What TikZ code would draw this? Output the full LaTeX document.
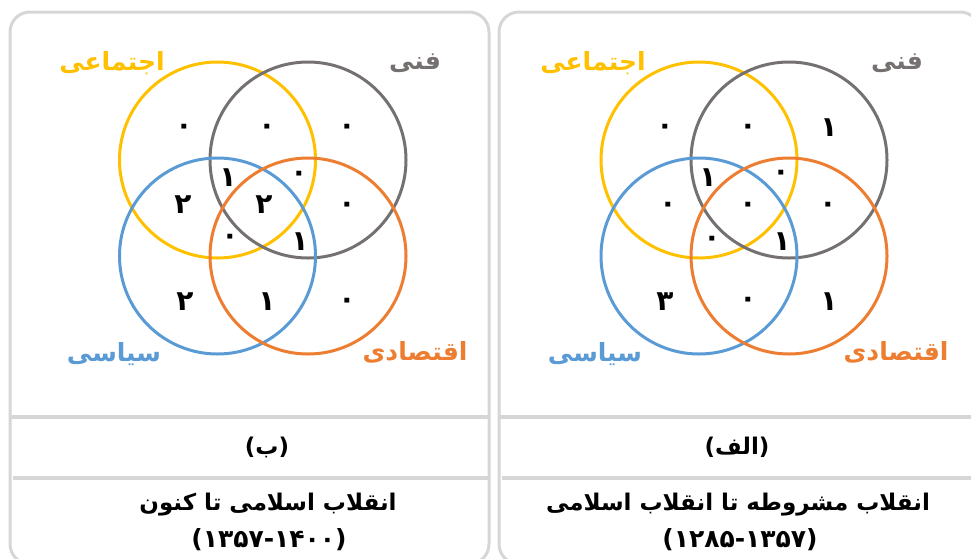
\documentclass[tikz,border=0pt]{standalone}
\usepackage{fontspec}
\newfontfamily\fa[Script=Arabic]{DejaVu Sans}
\TeXXeTstate=1
\definecolor{cyel}{HTML}{FFC000}
\definecolor{cgray}{HTML}{767171}
\definecolor{cblue}{HTML}{5B9BD5}
\definecolor{corange}{HTML}{ED7D31}
\definecolor{cframe}{HTML}{D6D6D6}
\begin{document}
\begin{tikzpicture}[x=1pt,y=-1pt,
  frame/.style={draw=cframe,line width=3pt,rounded corners=20pt},
  sepline/.style={draw=cframe,line width=3.5pt},
  ring/.style={line width=3pt},
  num/.style={font=\fa\bfseries\fontsize{28}{30}\selectfont,inner sep=0pt},
  lab/.style={font=\fa\bfseries\fontsize{25}{28}\selectfont,inner sep=0pt},
  captext/.style={font=\fa\bfseries\fontsize{23}{26}\selectfont,inner sep=0pt},
  yeartext/.style={font=\fa\bfseries\fontsize{25}{27}\selectfont,inner sep=0pt}]
\clip (0,0) rectangle (971,558);
% panels
\draw[frame] (10,12) rectangle (489,564);
\draw[frame] (499,12) rectangle (980,564);
\draw[sepline] (11,417) -- (488,417);
\draw[sepline] (13,478) -- (488,478);
\draw[sepline] (500,417) -- (971,417);
\draw[sepline] (502,478) -- (971,478);
% left venn
\draw[ring,draw=cyel] (217.5,160) circle[radius=98pt];
\draw[ring,draw=cgray] (308,160) circle[radius=98pt];
\draw[ring,draw=cblue] (217.5,256) circle[radius=98pt];
\draw[ring,draw=corange] (308,256) circle[radius=98pt];
% right venn
\draw[ring,draw=cyel] (699,160) circle[radius=98pt];
\draw[ring,draw=cgray] (789,160) circle[radius=98pt];
\draw[ring,draw=cblue] (699,256) circle[radius=98pt];
\draw[ring,draw=corange] (789,256) circle[radius=98pt];
% left labels
\node[lab,text=cyel] (Lsoc) at (112,63) {\beginR اجتماعی\endR};
\node[lab,text=cgray] (Ltec) at (415,63) {\beginR فنی\endR};
\node[lab,text=cblue] (Lpol) at (114,354) {\beginR سیاسی\endR};
\node[lab,text=corange] (Leco) at (415,352) {\beginR اقتصادی\endR};
% right labels
\node[lab,text=cyel] (Rsoc) at (593,63) {\beginR اجتماعی\endR};
\node[lab,text=cgray] (Rtec) at (897,63) {\beginR فنی\endR};
\node[lab,text=cblue] (Rpol) at (595,354) {\beginR سیاسی\endR};
\node[lab,text=corange] (Reco) at (896,352) {\beginR اقتصادی\endR};
% left numbers
\node[num] (L1) at (184,129) {۰};
\node[num] (L2) at (267,129) {۰};
\node[num] (L3) at (347,129) {۰};
\node[num] (L4) at (228,178) {۱};
\node[num] (L5) at (299,176) {۰};
\node[num] (L6) at (183,205) {۲};
\node[num] (L7) at (264,205) {۲};
\node[num] (L8) at (347,207) {۰};
\node[num] (L9) at (230,239) {۰};
\node[num] (L10) at (300,242) {۱};
\node[num] (L11) at (185,302) {۲};
\node[num] (L12) at (267,302) {۱};
\node[num] (L13) at (347,303) {۰};
% right numbers
\node[num] (R1) at (665,129) {۰};
\node[num] (R2) at (748,129) {۰};
\node[num] (R3) at (829,128) {۱};
\node[num] (R4) at (708,178) {۱};
\node[num] (R5) at (781,175) {۰};
\node[num] (R6) at (668,207) {۰};
\node[num] (R7) at (748,207) {۰};
\node[num] (R8) at (828,207) {۰};
\node[num] (R9) at (712,241) {۰};
\node[num] (R10) at (782,242) {۱};
\node[num] (R11) at (665,302) {۳};
\node[num] (R12) at (748,302) {۰};
\node[num] (R13) at (829,302) {۱};
% captions
\node[captext] (Lsub) at (267,447) {\beginR(ب)\endR};
\node[captext] (Ltitle) at (268,505) {\beginR انقلاب اسلامی تا کنون\endR};
\node[yeartext] (Lyears) at (269,540) {(۱۳۵۷-۱۴۰۰)};
\node[captext] (Rsub) at (737,447) {\beginR(الف)\endR};
\node[captext] (Rtitle) at (738,505) {\beginR انقلاب مشروطه تا انقلاب اسلامی\endR};
\node[yeartext] (Ryears) at (740,540) {(۱۲۸۵-۱۳۵۷)};
\end{tikzpicture}
\end{document}
